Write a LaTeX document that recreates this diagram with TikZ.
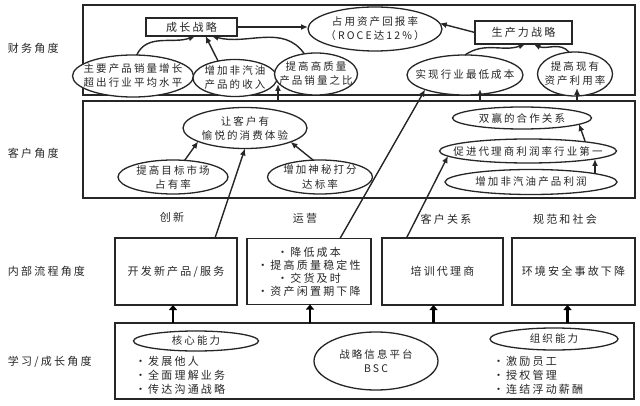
\documentclass[tikz,border=0pt]{standalone}
\usepackage{fontspec}
\newfontfamily\cjk[LetterSpace=20]{Noto Sans CJK SC}
\usetikzlibrary{arrows.meta,calc,shapes.geometric}
\begin{document}
\begin{tikzpicture}[x=1pt,y=-1pt,
  every node/.style={inner sep=0pt, outer sep=0pt, text=black!85},
  txt/.style={font=\cjk\fontsize{11}{13}\selectfont, align=center},
  etxt/.style={font=\cjk\fontsize{10.5}{14}\selectfont, align=center},
  layer/.style={draw=black!85, line width=1.6pt, anchor=north west},
  rbox/.style={draw=black!85, line width=1.4pt, fill=white, txt},
  ell/.style={ellipse, draw=black!85, line width=1.3pt, fill=white},
  arr/.style={draw=black!85, line width=1.4pt, -{Latex[length=7pt,width=6pt]}},
  tarr/.style={draw=black, line width=2.4pt, -{Triangle[length=5pt,width=8pt]}},
]
\useasboundingbox (0,0) rectangle (640,406);

% layers
\node[layer, minimum width=552pt, minimum height=90pt] (fin) at (83,5) {};
\node[layer, minimum width=552pt, minimum height=97pt] (cust) at (83,101) {};
\node[layer, minimum width=519pt, minimum height=76pt] (learn) at (115,323) {};

% side labels
\node[txt, anchor=west] (l1) at (8,48) {财务角度};
\node[txt, anchor=west] (l2) at (8,153) {客户角度};
\node[txt, anchor=west] (l3) at (8,271) {内部流程角度};
\node[txt, anchor=west] (l4) at (8,362) {学习/成长角度};

% financial
\node[rbox, minimum width=91pt, minimum height=18pt] (gs) at (191.5,27) {成长战略};
\node[ell, minimum width=134pt, minimum height=44pt, label={[etxt]center:占用资产回报率\\（ROCE达12\%）}] (roce) at (375,29) {};
\node[rbox, minimum width=97pt, minimum height=23pt] (ps) at (523.5,32.5) {生产力战略};
\node[ell, minimum width=121pt, minimum height=42pt, label={[etxt]center:主要产品销量增长\\超出行业平均水平}] (mp) at (133,76) {};
\node[ell, minimum width=84pt, minimum height=37pt, label={[etxt]center:增加非汽油\\产品的收入}] (zj) at (235,78) {};
\node[ell, minimum width=83pt, minimum height=42pt, label={[etxt]center:提高高质量\\产品销量之比}] (tg) at (316,74) {};
\node[ell, minimum width=116pt, minimum height=40pt, label={[etxt]center:实现行业最低成本}] (sx) at (465,75) {};
\node[ell, minimum width=75pt, minimum height=44pt, label={[etxt]center:提高现有\\资产利用率}] (ty) at (575,74) {};

% customer
\node[ell, minimum width=124pt, minimum height=41pt, label={[etxt]center:让客户有\\愉悦的消费体验}] (kh) at (245,128) {};
\node[ell, minimum width=110pt, minimum height=34pt, label={[etxt]center:提高目标市场\\占有率}] (tm) at (173,177) {};
\node[ell, minimum width=105pt, minimum height=34pt, label={[etxt]center:增加神秘打分\\达标率}] (sm) at (320,177) {};
\node[ell, minimum width=139pt, minimum height=22pt, label={[etxt]center:双赢的合作关系}] (sy) at (522,118) {};
\node[ell, minimum width=177pt, minimum height=24pt, label={[etxt]center:促进代理商利润率行业第一}] (cj) at (528,151) {};
\node[ell, minimum width=172pt, minimum height=25pt, label={[etxt]center:增加非汽油产品利润}] (zr) at (531,182) {};

% internal process
\node[txt] (c1) at (172,217) {创新};
\node[txt] (c2) at (305,218) {运营};
\node[txt] (c3) at (446,219) {客户关系};
\node[txt] (c4) at (565,219) {规范和社会};
\node[rbox, minimum width=122pt, minimum height=67pt] (kf) at (176,271.5) {开发新产品/服务};
\node[rbox, minimum width=124pt, minimum height=66pt] (yy) at (309,271.5) {·降低成本\\·提高质量稳定性\\·交货及时\\·资产闲置期下降};
\node[rbox, minimum width=121pt, minimum height=67pt] (px) at (442.5,271.5) {培训代理商};
\node[rbox, minimum width=123pt, minimum height=67pt] (hj) at (573.5,271.5) {环境安全事故下降};

% learning
\node[ell, minimum width=125pt, minimum height=20pt, label={[etxt]center:核心能力}] (hx) at (196,341) {};
\node[txt, align=left, anchor=north west, font=\cjk\fontsize{11}{14}\selectfont] (b1) at (135,356) {·发展他人\\·全面理解业务\\·传达沟通战略};
\node[ell, minimum width=124pt, minimum height=58pt, label={[etxt]center:战略信息平台\\BSC}] (zl) at (376,361) {};
\node[ell, minimum width=128pt, minimum height=22pt, label={[etxt]center:组织能力}] (zz) at (554,339) {};
\node[txt, align=left, anchor=north west, font=\cjk\fontsize{11}{14}\selectfont] (b2) at (493,356) {·激励员工\\·授权管理\\·连结浮动薪酬};

% financial arrows
\draw[arr] (gs.east) -- (gs.east -| roce.west);
\draw[arr] (ps.west) -- (roce.5);
\draw[arr] (mp.80) to[out=65,in=-160] ($(gs.south)+(4,0)$);
\draw[arr] (zj.135) -- ($(gs.south)+(14,0)$);
\draw[arr] (tg.120) to[out=125,in=-15] ($(gs.south)+(20,0)$);
\draw[arr] (sx.north) to[out=35,in=-160] ($(ps.south)+(2,0)$);
\draw[arr] (ty.105) to[out=130,in=-25] ($(ps.south)+(10,0)$);

% customer arrows
\draw[arr] (tm.55) -- (kh.196);
\draw[arr] (sm.112) -- (kh.-17);
\draw[arr] ($(cj.center)+(57,-10)$) -- ($(sy.center)+(57,6)$);
\draw[arr] ($(zr.center)+(64,-8)$) -- ($(cj.center)+(67,8)$);

% cross-layer arrows
\draw[arr] ($(kf.north)+(39,0)$) -- (kh.south);
\draw[arr] ($(yy.north)+(31,0)$) -- (sx.200);
\draw[arr] ($(px.north)+(-36,0)$) -- ($(cj.center)+(-80,5)$);
\draw[arr] ($(cust.north west)+(195,0)$) -- ($(tg.center)+(-38,10)$);
\draw[arr] ($(cust.north west)+(397,0)$) -- ($(sx.center)+(15,14)$);
\draw[arr] ($(cust.north west)+(494,0)$) -- ($(ty.center)+(2,14)$);

% learning -> internal
\draw[tarr] ($(kf.south |- learn.north)+(-3,0)$) -- ($(kf.south)+(-3,0)$);
\draw[tarr] ($(yy.south |- learn.north)+(1,0)$) -- ($(yy.south)+(1,0)$);
\draw[tarr] ($(px.south |- learn.north)+(-9,0)$) -- ($(px.south)+(-9,0)$);
\draw[tarr] ($(hj.south |- learn.north)+(-6,0)$) -- ($(hj.south)+(-6,0)$);
\end{tikzpicture}
\end{document}
